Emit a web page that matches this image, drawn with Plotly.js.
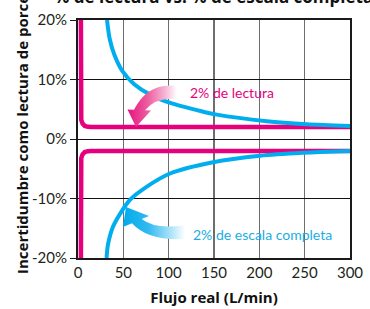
<!DOCTYPE html>
<html>
<head>
<meta charset="utf-8">
<script src="https://cdn.plot.ly/plotly-3.0.1.min.js"></script>
<style>
  html, body { margin: 0; padding: 0; background: #fff; }
  #chart { width: 370px; height: 309px; }
</style>
</head>
<body>
<div id="chart"></div>
<script>
// ---- data ----
const xTickVals = [0, 50, 100, 150, 200, 250, 300];
const xTickText = ['0', '50', '100', '150', '200', '250', '300'];
const yTickVals = [-20, -10, 0, 10, 20];
const yTickText = ['-20%', '-10%', '0%', '10%', '20%'];

// 2% of reading (upper and lower bound), in %
const lecturaFlow  = [3.2, 3.2, 3.6, 5, 7.5, 11, 14.5, 300];
const lecturaUpper = [20, 4.0, 3.2, 2.6, 2.2, 2.05, 2.0, 2.0];
const lecturaLower = [-20, -4.0, -3.2, -2.6, -2.2, -2.05, -2.0, -2.0];

// 2% of full scale (upper and lower bound), in %
const escalaFlowUp  = [32, 35, 40, 49, 62, 79, 101, 135, 153, 208, 252, 300];
const escalaUpper   = [20, 16.8, 14.2, 11.4, 9.2, 7.5, 6.1, 4.7, 4.1, 3.0, 2.5, 2.2];
const escalaFlowLow = [31.5, 33, 39, 57.5, 76, 101.5, 149, 200.7, 248, 300];
const escalaLower   = [-20, -17.8, -14.6, -10.2, -8.0, -5.8, -3.9, -2.8, -2.3, -2.0];

const MAGENTA = '#E6007E';
const CYAN = '#00AEEF';
const FONT = 'Lato, "Open Sans", sans-serif';
const BOLDFONT = '"Open Sans", Lato, sans-serif';

const traces = [
  { x: lecturaFlow, y: lecturaUpper, mode: 'lines', line: { color: MAGENTA, width: 4.5 }, name: '2% de lectura', showlegend: false, hoverinfo: 'skip' },
  { x: lecturaFlow, y: lecturaLower, mode: 'lines', line: { color: MAGENTA, width: 4.5 }, name: '2% de lectura', showlegend: false, hoverinfo: 'skip' },
  { x: escalaFlowUp, y: escalaUpper, mode: 'lines', line: { color: CYAN, width: 4, shape: 'spline', smoothing: 0.8 }, name: '2% de escala completa', showlegend: false, hoverinfo: 'skip' },
  { x: escalaFlowLow, y: escalaLower, mode: 'lines', line: { color: CYAN, width: 4, shape: 'spline', smoothing: 0.8 }, name: '2% de escala completa', showlegend: false, hoverinfo: 'skip' }
];

// layout geometry (pixels)
const W = 370, H = 309, ML = 78, MR = 20, MT = 20, MB = 51;
const PW = W - ML - MR, PH = H - MT - MB;
const px = v => (v - ML) / PW;
const py = v => (H - MB - v) / PH;
function pathFromPx(cmds) {
  return cmds.map(c => {
    const op = c[0];
    const nums = c.slice(1);
    const out = [];
    for (let i = 0; i < nums.length; i += 2) {
      out.push(px(nums[i]).toFixed(4) + ',' + py(nums[i + 1]).toFixed(4));
    }
    return op + ' ' + out.join(' ');
  }).join(' ');
}

const pinkArrow = pathFromPx([
  ['M', 136, 127], ['L', 151, 110.5], ['L', 145, 110.2],
  ['Q', 156, 97, 177, 99], ['L', 177, 86],
  ['Q', 148, 82, 134, 109.8], ['L', 127.5, 109.5], ['Z']
]);
const blueArrow = pathFromPx([
  ['M', 126, 207], ['L', 149, 216], ['L', 141.7, 219],
  ['Q', 156, 230, 185, 225], ['L', 185, 239],
  ['Q', 148, 241, 132, 223.2], ['L', 123, 227], ['Z']
]);

const layout = {
  width: W, height: H,
  margin: { l: ML, r: MR, t: MT, b: MB, pad: 0 },
  paper_bgcolor: '#ffffff', plot_bgcolor: '#ffffff',
  font: { family: FONT, color: '#231f20' },
  showlegend: false,
  xaxis: {
    range: [0, 300], tickvals: xTickVals, ticktext: xTickText,
    showgrid: true, gridcolor: '#6e6e6e', gridwidth: 1.2,
    zeroline: false, showline: true, mirror: true, linecolor: '#1a1a1a', linewidth: 2,
    ticks: '', tickfont: { family: FONT, size: 15, color: '#231f20' },
    title: { text: 'Flujo real (L/min)', font: { family: BOLDFONT, size: 15, color: '#111', weight: 700 }, standoff: 12 },
    fixedrange: true
  },
  yaxis: {
    range: [-20, 20], tickvals: yTickVals, ticktext: yTickText,
    showgrid: true, gridcolor: '#111111', gridwidth: 1,
    zeroline: true, zerolinecolor: '#111111', zerolinewidth: 1,
    showline: true, mirror: true, linecolor: '#1a1a1a', linewidth: 2,
    ticks: 'outside', ticklen: 6, tickwidth: 1, tickcolor: '#1a1a1a',
    tickfont: { family: FONT, size: 15, color: '#231f20' },
    fixedrange: true
  },
  shapes: [
    { type: 'path', xref: 'paper', yref: 'paper', path: pinkArrow, fillcolor: '#F07AB2', line: { width: 0 }, layer: 'above' },
    { type: 'path', xref: 'paper', yref: 'paper', path: blueArrow, fillcolor: '#5CC8F2', line: { width: 0 }, layer: 'above' }
  ],
  annotations: [
    { text: '% de lectura vs. % de escala completa', xref: 'paper', yref: 'paper',
      x: px(52), y: py(10), xanchor: 'left', yanchor: 'bottom', showarrow: false,
      font: { family: BOLDFONT, size: 17, color: '#111', weight: 700 } },
    { text: 'Incertidumbre como lectura de porcentaje', xref: 'paper', yref: 'paper',
      x: px(22), y: py(276), xanchor: 'center', yanchor: 'bottom', textangle: -90, showarrow: false,
      font: { family: BOLDFONT, size: 15, color: '#111', weight: 700 } },
    { text: '2% de lectura', xref: 'paper', yref: 'paper',
      x: px(188), y: py(92), xanchor: 'left', yanchor: 'middle', showarrow: false,
      font: { family: FONT, size: 14, color: MAGENTA } },
    { text: '2% de escala completa', xref: 'paper', yref: 'paper',
      x: px(191), y: py(234), xanchor: 'left', yanchor: 'middle', showarrow: false,
      font: { family: FONT, size: 14, color: '#1AADE4' } }
  ]
};

const gd = document.getElementById('chart');
Plotly.newPlot(gd, traces, layout, { staticPlot: true, displayModeBar: false }).then(() => {
  // add horizontal fading gradients to the two curved arrows
  const svg = gd.querySelector('svg.main-svg');
  const NS = 'http://www.w3.org/2000/svg';
  let defs = svg.querySelector('defs');
  if (!defs) { defs = document.createElementNS(NS, 'defs'); svg.insertBefore(defs, svg.firstChild); }
  function grad(id, stops) {
    const g = document.createElementNS(NS, 'linearGradient');
    g.setAttribute('id', id);
    g.setAttribute('x1', '0'); g.setAttribute('x2', '1');
    g.setAttribute('y1', '0'); g.setAttribute('y2', '0');
    stops.forEach(s => {
      const st = document.createElementNS(NS, 'stop');
      st.setAttribute('offset', s[0]);
      st.setAttribute('stop-color', s[1]);
      g.appendChild(st);
    });
    defs.appendChild(g);
  }
  grad('gradPink', [[0, '#E6137F'], [0.4, '#EC5C9F'], [0.75, '#F6B3D3'], [1, '#FFFFFF']]);
  grad('gradBlue', [[0, '#00AAEC'], [0.4, '#2FBAF0'], [0.75, '#A6E0F8'], [1, '#FFFFFF']]);
  const paths = gd.querySelectorAll('.shapelayer path');
  const ids = ['gradPink', 'gradBlue'];
  let k = 0;
  paths.forEach(p => {
    const idx = p.getAttribute('data-index');
    const i = idx !== null ? parseInt(idx, 10) : k;
    if (ids[i]) { p.style.fill = 'url(#' + ids[i] + ')'; p.style.fillOpacity = 1; }
    k++;
  });
});
</script>
</body>
</html>
